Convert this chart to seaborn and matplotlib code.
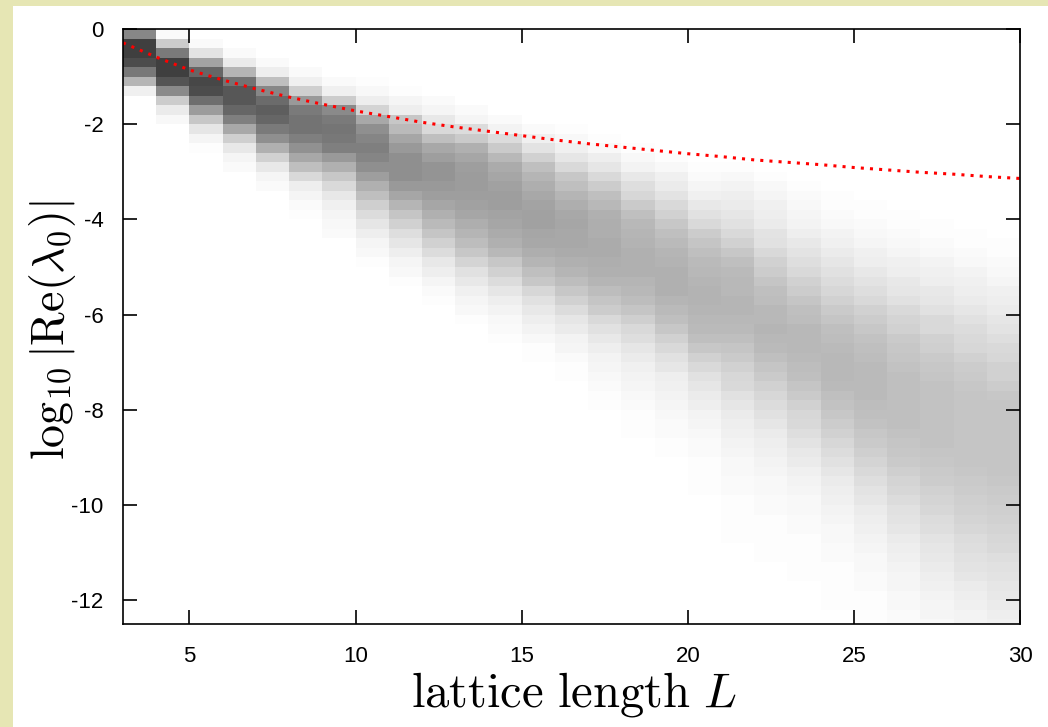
# %% Setup
import numpy as np
import pandas as pd
import matplotlib
matplotlib.use("Agg")
import matplotlib.pyplot as plt
import seaborn as sns
from matplotlib.colors import LinearSegmentedColormap
from matplotlib.patches import Rectangle

# %% Data
# histogram columns, one per lattice length bin [L, L+1];
# values = darkness in percent, listed from the bin row "first_bin" downwards
# (rows are 0.2 wide in log10 |Re(lambda_0)|, row 0 = [0, -0.2])
L_edges = list(range(3, 31))
bin_width = 0.2
n_bins = 63

first_bin = [0, 0, 1, 2, 3, 4, 5, 5, 6, 7, 8, 9, 10, 10, 11,
             12, 13, 14, 14, 15, 16, 17, 18, 19, 20, 21, 22]

h03 = [47, 75, 75, 70, 53, 29, 6]
h04 = [2, 20, 52, 75, 75, 67, 46, 20, 8, 3]
h05 = [2, 11, 36, 60, 72, 70, 57, 39, 22, 10, 4, 1]
h06 = [2, 8, 29, 55, 66, 66, 60, 50, 34, 19, 9, 4, 2]
h07 = [2, 7, 25, 47, 58, 63, 60, 52, 44, 31, 18, 9, 4, 2]
h08 = [2, 6, 19, 40, 52, 55, 55, 50, 43, 34, 25, 15, 7, 4, 2, 1]
h09 = [2, 6, 20, 46, 52, 54, 53, 50, 40, 31, 22, 15, 9, 6, 4, 3, 2]
h10 = [1, 3, 7, 17, 34, 44, 48, 50, 48, 44, 38, 31, 25, 19, 14, 10, 7, 4, 3, 1]
h11 = [1, 4, 7, 22, 27, 35, 40, 44, 44, 44, 40, 35, 29, 23, 18, 13, 10, 7, 4, 3, 1]
h12 = [2, 4, 9, 15, 25, 34, 38, 42, 42, 40, 38, 35, 31, 27, 23, 18, 14, 9, 7, 4, 2, 1]
h13 = [2, 4, 14, 21, 31, 35, 38, 39, 39, 38, 37, 35, 32, 29, 26, 22, 17, 12, 9, 6, 4, 3, 1]
h14 = [2, 5, 14, 21, 28, 33, 35, 37, 38, 38, 36, 35, 33, 31, 28, 22, 18, 14, 10, 7, 5, 3, 2, 1]
h15 = [2, 6, 11, 18, 25, 29, 32, 34, 36, 37, 37, 35, 34, 32, 29, 25, 22, 16, 12, 9, 7, 5,
       3, 1, 1]
h16 = [1, 3, 6, 10, 15, 22, 25, 29, 32, 34, 35, 34, 34, 33, 31, 29, 26, 22, 18, 14, 10, 8,
       5, 4, 2, 1, 1]
h17 = [1, 3, 7, 10, 15, 20, 25, 28, 31, 32, 32, 33, 33, 32, 31, 29, 26, 23, 20, 15, 12, 9,
       7, 5, 4, 3, 2, 1, 1]
h18 = [1, 3, 5, 9, 13, 16, 21, 25, 28, 29, 30, 31, 31, 31, 29, 28, 26, 23, 19, 15, 13, 10,
       8, 6, 5, 4, 3, 2, 1, 1, 1]
h19 = [1, 3, 6, 8, 11, 15, 18, 22, 25, 27, 29, 30, 31, 31, 31, 29, 27, 25, 22, 18, 15, 12,
       10, 7, 6, 5, 4, 3, 2, 2, 1, 1]
h20 = [1, 2, 4, 6, 9, 12, 15, 20, 23, 25, 27, 28, 29, 30, 30, 29, 28, 27, 25, 22, 18, 15,
       12, 10, 8, 7, 5, 4, 3, 2, 2, 1, 1, 1, 1]
h21 = [1, 3, 5, 7, 8, 10, 12, 15, 18, 22, 25, 27, 28, 28, 29, 29, 28, 27, 25, 23, 21, 18,
       16, 15, 12, 10, 8, 7, 6, 5, 4, 3, 3, 2, 2, 1, 1, 1, 1, 1]
h22 = [1, 3, 4, 6, 7, 8, 11, 12, 15, 18, 20, 23, 25, 26, 28, 28, 29, 28, 27, 25, 23, 21,
       18, 16, 14, 12, 10, 8, 7, 6, 5, 4, 3, 3, 2, 2, 1, 1, 1, 1, 1]
h23 = [1, 2, 3, 4, 5, 7, 9, 11, 13, 15, 18, 20, 23, 25, 26, 28, 28, 28, 27, 26, 25, 23,
       21, 18, 16, 15, 13, 11, 9, 8, 6, 5, 4, 3, 3, 2, 2, 1, 1, 1, 1, 1]
h24 = [1, 1, 2, 3, 5, 6, 8, 10, 12, 14, 16, 18, 21, 23, 25, 26, 27, 28, 28, 28, 27, 25,
       24, 22, 20, 18, 16, 14, 12, 10, 8, 7, 6, 5, 4, 3, 3, 2, 2, 1, 1, 1, 1, 1]
h25 = [1, 1, 2, 3, 4, 6, 7, 9, 11, 13, 15, 18, 20, 22, 24, 25, 26, 27, 27, 27, 27, 26,
       25, 24, 22, 21, 19, 17, 15, 13, 11, 10, 8, 7, 6, 5, 4, 3, 3, 2, 2, 1, 1, 1, 1]
h26 = [1, 1, 2, 3, 4, 6, 7, 9, 10, 12, 15, 17, 18, 21, 22, 23, 24, 25, 25, 25, 25, 25,
       25, 24, 23, 22, 21, 19, 17, 16, 14, 12, 11, 10, 8, 7, 6, 5, 4, 4, 3, 3, 2, 2]
h27 = [1, 1, 2, 3, 5, 6, 7, 9, 10, 12, 15, 15, 18, 19, 21, 22, 23, 24, 24, 24, 24, 24,
       24, 24, 23, 22, 21, 20, 18, 17, 16, 14, 13, 11, 10, 9, 8, 7, 6, 5, 4, 4, 3]
h28 = [1, 1, 2, 3, 5, 6, 7, 8, 10, 12, 14, 15, 16, 18, 20, 21, 22, 23, 23, 23, 23,
       23, 23, 23, 23, 22, 21, 20, 19, 18, 17, 16, 14, 13, 12, 11, 10, 8, 7, 6, 5, 5]
h29 = [1, 1, 2, 3, 4, 6, 7, 8, 10, 11, 13, 15, 16, 18, 18, 20, 22, 23, 23, 23,
       23, 23, 23, 23, 23, 22, 21, 20, 19, 18, 17, 16, 15, 13, 12, 11, 10, 9, 8, 7, 6]

columns = [h03, h04, h05, h06, h07, h08, h09, h10, h11, h12, h13, h14, h15, h16,
           h17, h18, h19, h20, h21, h22, h23, h24, h25, h26, h27, h28, h29]

# red dotted curve
curve_L = list(range(3, 31))
curve_y = [-0.29, -0.59, -0.86, -1.07, -1.26, -1.43, -1.58, -1.72, -1.84, -1.96,
           -2.06, -2.15, -2.24, -2.33, -2.41, -2.48, -2.55, -2.62, -2.68, -2.75,
           -2.80, -2.85, -2.91, -2.96, -3.01, -3.05, -3.10, -3.14]

# %% Build matrix
Z = np.zeros((n_bins, len(columns)))
for k, (start, vals) in enumerate(zip(first_bin, columns)):
    vals = vals[:n_bins - start]
    Z[start:start + len(vals), k] = vals

y_edges = -bin_width * np.arange(n_bins + 1)
curve_df = pd.DataFrame({"L": curve_L, "y": curve_y})

# %% Plot
sns.set_theme(style="white")
plt.rcParams["font.family"] = ["Liberation Sans", "DejaVu Sans"]
plt.rcParams["mathtext.fontset"] = "cm"

fig = plt.figure(figsize=(10.48, 7.27), dpi=100)
fig.patch.set_facecolor("#e6e6b4")
fig.patches.append(Rectangle((13 / 1048, 0), 1, 1 - 6 / 727, transform=fig.transFigure,
                             facecolor="white", edgecolor="none", zorder=-10))

ax = fig.add_axes([123 / 1048, 103 / 727, 897 / 1048, 595 / 727])
ax.set_zorder(1)
ax.set_facecolor("white")
ax.set_axisbelow(False)

greys = LinearSegmentedColormap.from_list("wb", ["#ffffff", "#000000"])
ax.pcolormesh(L_edges, y_edges, Z, cmap=greys, vmin=0, vmax=100,
              shading="flat", antialiased=False, edgecolors="none", zorder=1)

sns.lineplot(data=curve_df, x="L", y="y", ax=ax, color="#ff0000",
             linewidth=2.2, linestyle=(0, (1, 2)), zorder=3, legend=False)

ax.set_xlim(3, 30)
ax.set_ylim(-12.5, 0)
ax.set_xticks([5, 10, 15, 20, 25, 30])
ax.set_yticks([0, -2, -4, -6, -8, -10, -12])
ax.set_yticklabels(["0", "-2", "-4", "-6", "-8", "-10", "-12"])

ax.tick_params(axis="both", which="both", direction="in", length=10, width=1.2,
               color="black", labelsize=16, labelcolor="black",
               top=True, right=True, bottom=True, left=True)
ax.tick_params(axis="y", pad=14)
ax.tick_params(axis="x", pad=16)

for spine in ax.spines.values():
    spine.set_color("black")
    spine.set_linewidth(1.2)
    spine.set_zorder(4)

ax.set_xlabel(r"$\mathrm{lattice\ length}\ L$", fontsize=35, color="black")
ax.set_ylabel(r"$\log_{10}|\mathrm{Re}(\lambda_0)|$", fontsize=33, color="black")
ax.xaxis.set_label_coords(0.503, -0.077)
ax.yaxis.set_label_coords(-0.05, 0.494)
ax.grid(False)

fig.savefig("out.png", dpi=100, facecolor=fig.get_facecolor())
plt.close(fig)
